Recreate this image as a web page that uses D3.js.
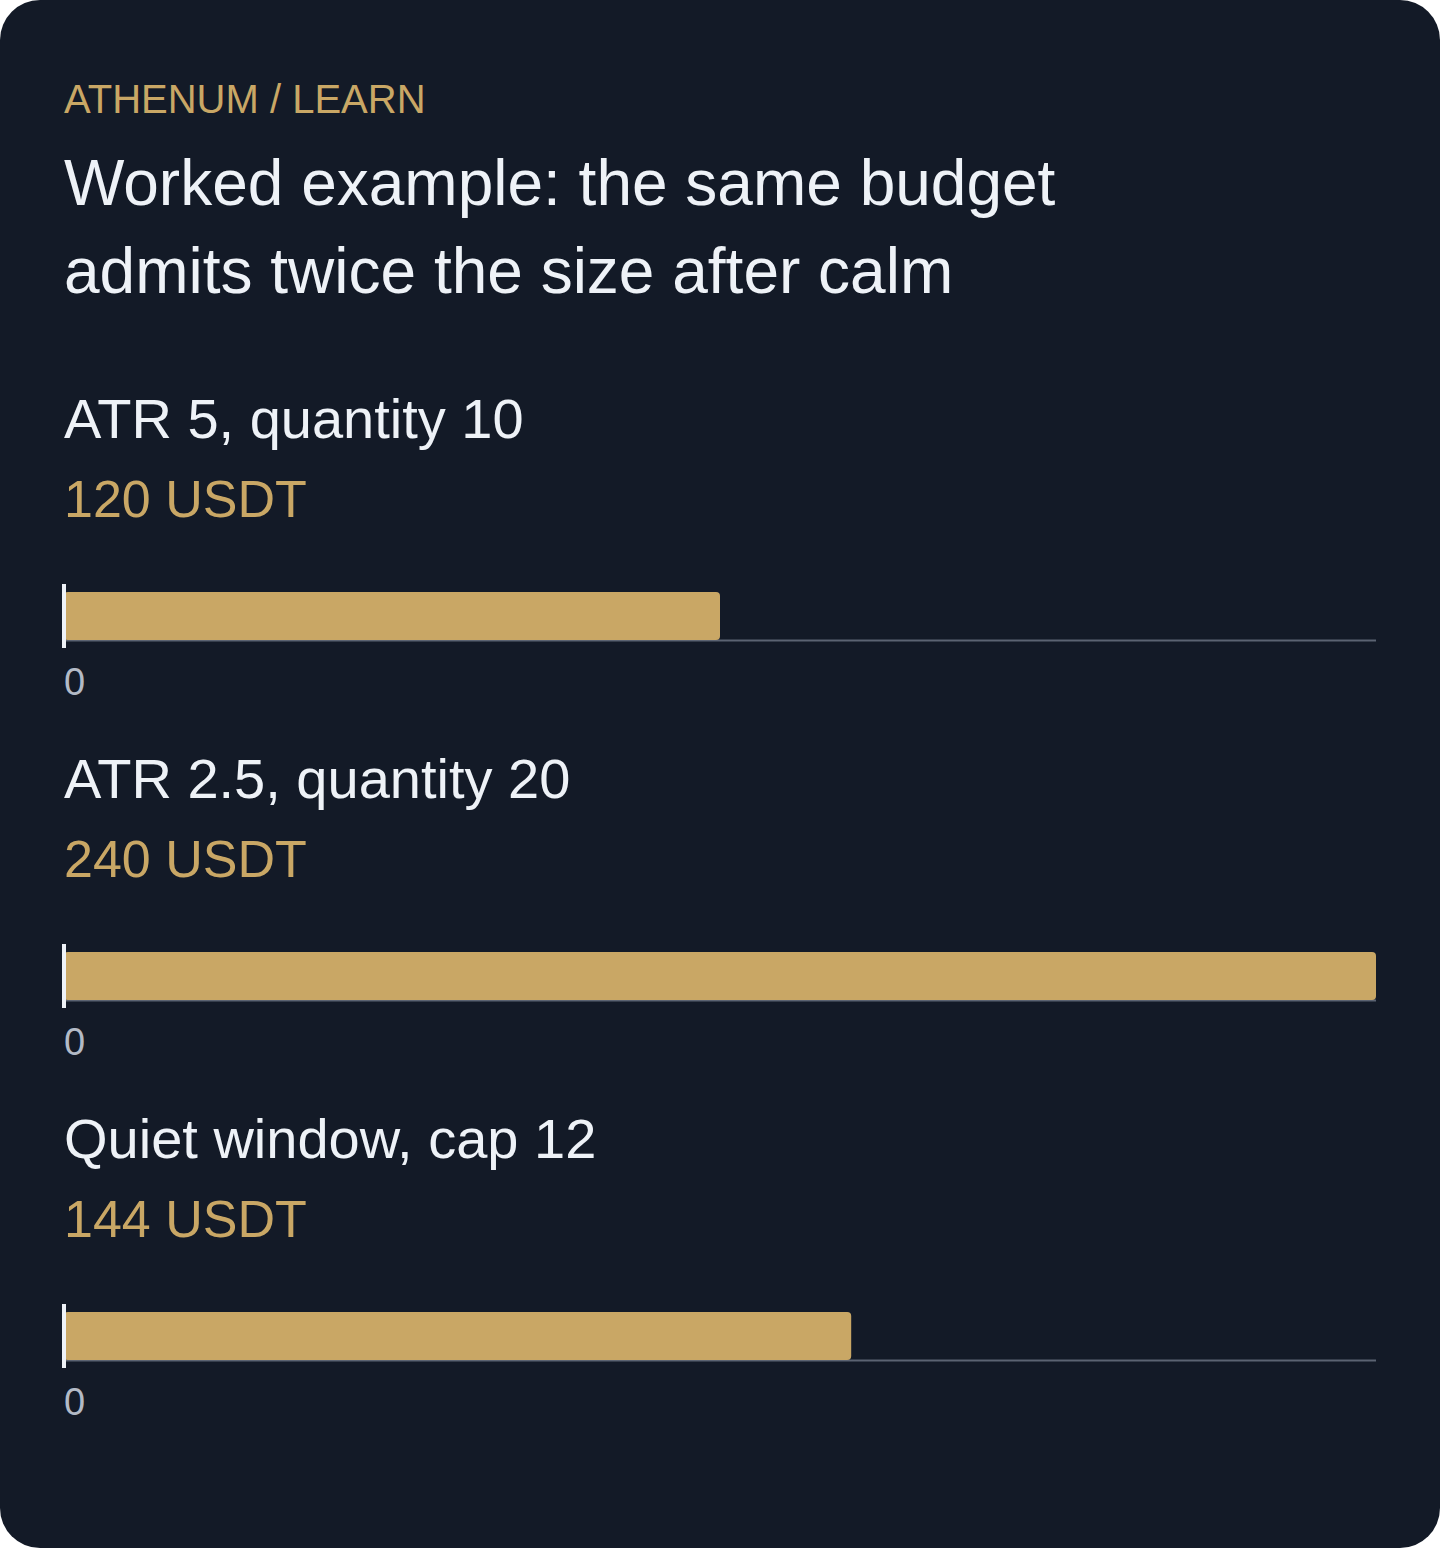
<!DOCTYPE html>
<html>
<head>
<meta charset="utf-8">
<script src="https://cdn.jsdelivr.net/npm/d3@7"></script>
<style>
    html, body { margin: 0; padding: 0; background: #ffffff; }
    #chart { width: 1440px; height: 1548px; }
    text { font-family: "Liberation Sans", Arial, Helvetica, sans-serif; }
</style>
</head>
<body>
<div id="chart"></div>
<script>
// data
var rowLabels = ["ATR 5, quantity 10", "ATR 2.5, quantity 20", "Quiet window, cap 12"];
var rowValues = [120, 240, 144];
var valueUnit = "USDT";
var axisTicks = [0];
var kicker = "ATHENUM / LEARN";
var titleLines = ["Worked example: the same budget", "admits twice the size after calm"];

var width = 1440;
var height = 1548;
var margin = { top: 64, right: 64, bottom: 64, left: 64 };
var rowStep = 360;

var gold = "#c9a765";

var svg = d3.select("#chart").append("svg")
    .attr("width", width)
    .attr("height", height)
    .attr("viewBox", [0, 0, width, height]);

svg.append("rect")
    .attr("width", width)
    .attr("height", height)
    .attr("rx", 40)
    .attr("fill", "#131a27");

svg.append("text")
    .attr("x", margin.left)
    .attr("y", 113)
    .attr("fill", gold)
    .style("font-size", "40px")
    .text(kicker);

svg.selectAll(".title")
    .data(titleLines).enter()
    .append("text")
    .attr("class", "title")
    .attr("x", margin.left)
    .attr("y", (d, i) => 205 + i * 88)
    .attr("fill", "#eef2f7")
    .style("font-size", "64px")
    .text(d => d);

var xScale = d3.scaleLinear()
    .domain([0, d3.max(rowValues)])
    .range([margin.left, width - margin.right]);

var rows = svg.selectAll(".row")
    .data(rowValues.map((v, i) => ({ label: rowLabels[i], value: v })))
    .enter()
    .append("g")
    .attr("class", "row")
    .attr("transform", (d, i) => `translate(0, ${438 + i * rowStep})`);

rows.append("text")
    .attr("x", margin.left)
    .attr("y", 0)
    .attr("fill", "#eef2f7")
    .style("font-size", "56px")
    .text(d => d.label);

rows.append("text")
    .attr("x", margin.left)
    .attr("y", 79)
    .attr("fill", gold)
    .style("font-size", "52px")
    .text(d => d.value + " " + valueUnit);

// baseline
rows.append("line")
    .attr("x1", xScale(0))
    .attr("x2", xScale.range()[1])
    .attr("y1", 202.5)
    .attr("y2", 202.5)
    .attr("stroke", "#5b6372")
    .attr("stroke-width", 2);

rows.append("rect")
    .attr("x", xScale(0))
    .attr("y", 154)
    .attr("width", d => xScale(d.value) - xScale(0))
    .attr("height", 48)
    .attr("rx", 4)
    .attr("fill", gold);

// zero marker
rows.append("rect")
    .attr("x", xScale(0) - 2)
    .attr("y", 146)
    .attr("width", 4)
    .attr("height", 64)
    .attr("fill", "#eef2f7");

rows.selectAll(".tick-label")
    .data(axisTicks).enter()
    .append("text")
    .attr("class", "tick-label")
    .attr("x", d => xScale(d))
    .attr("y", 257)
    .attr("fill", "#b3bac6")
    .style("font-size", "38px")
    .text(d => d);
</script>
</body>
</html>
